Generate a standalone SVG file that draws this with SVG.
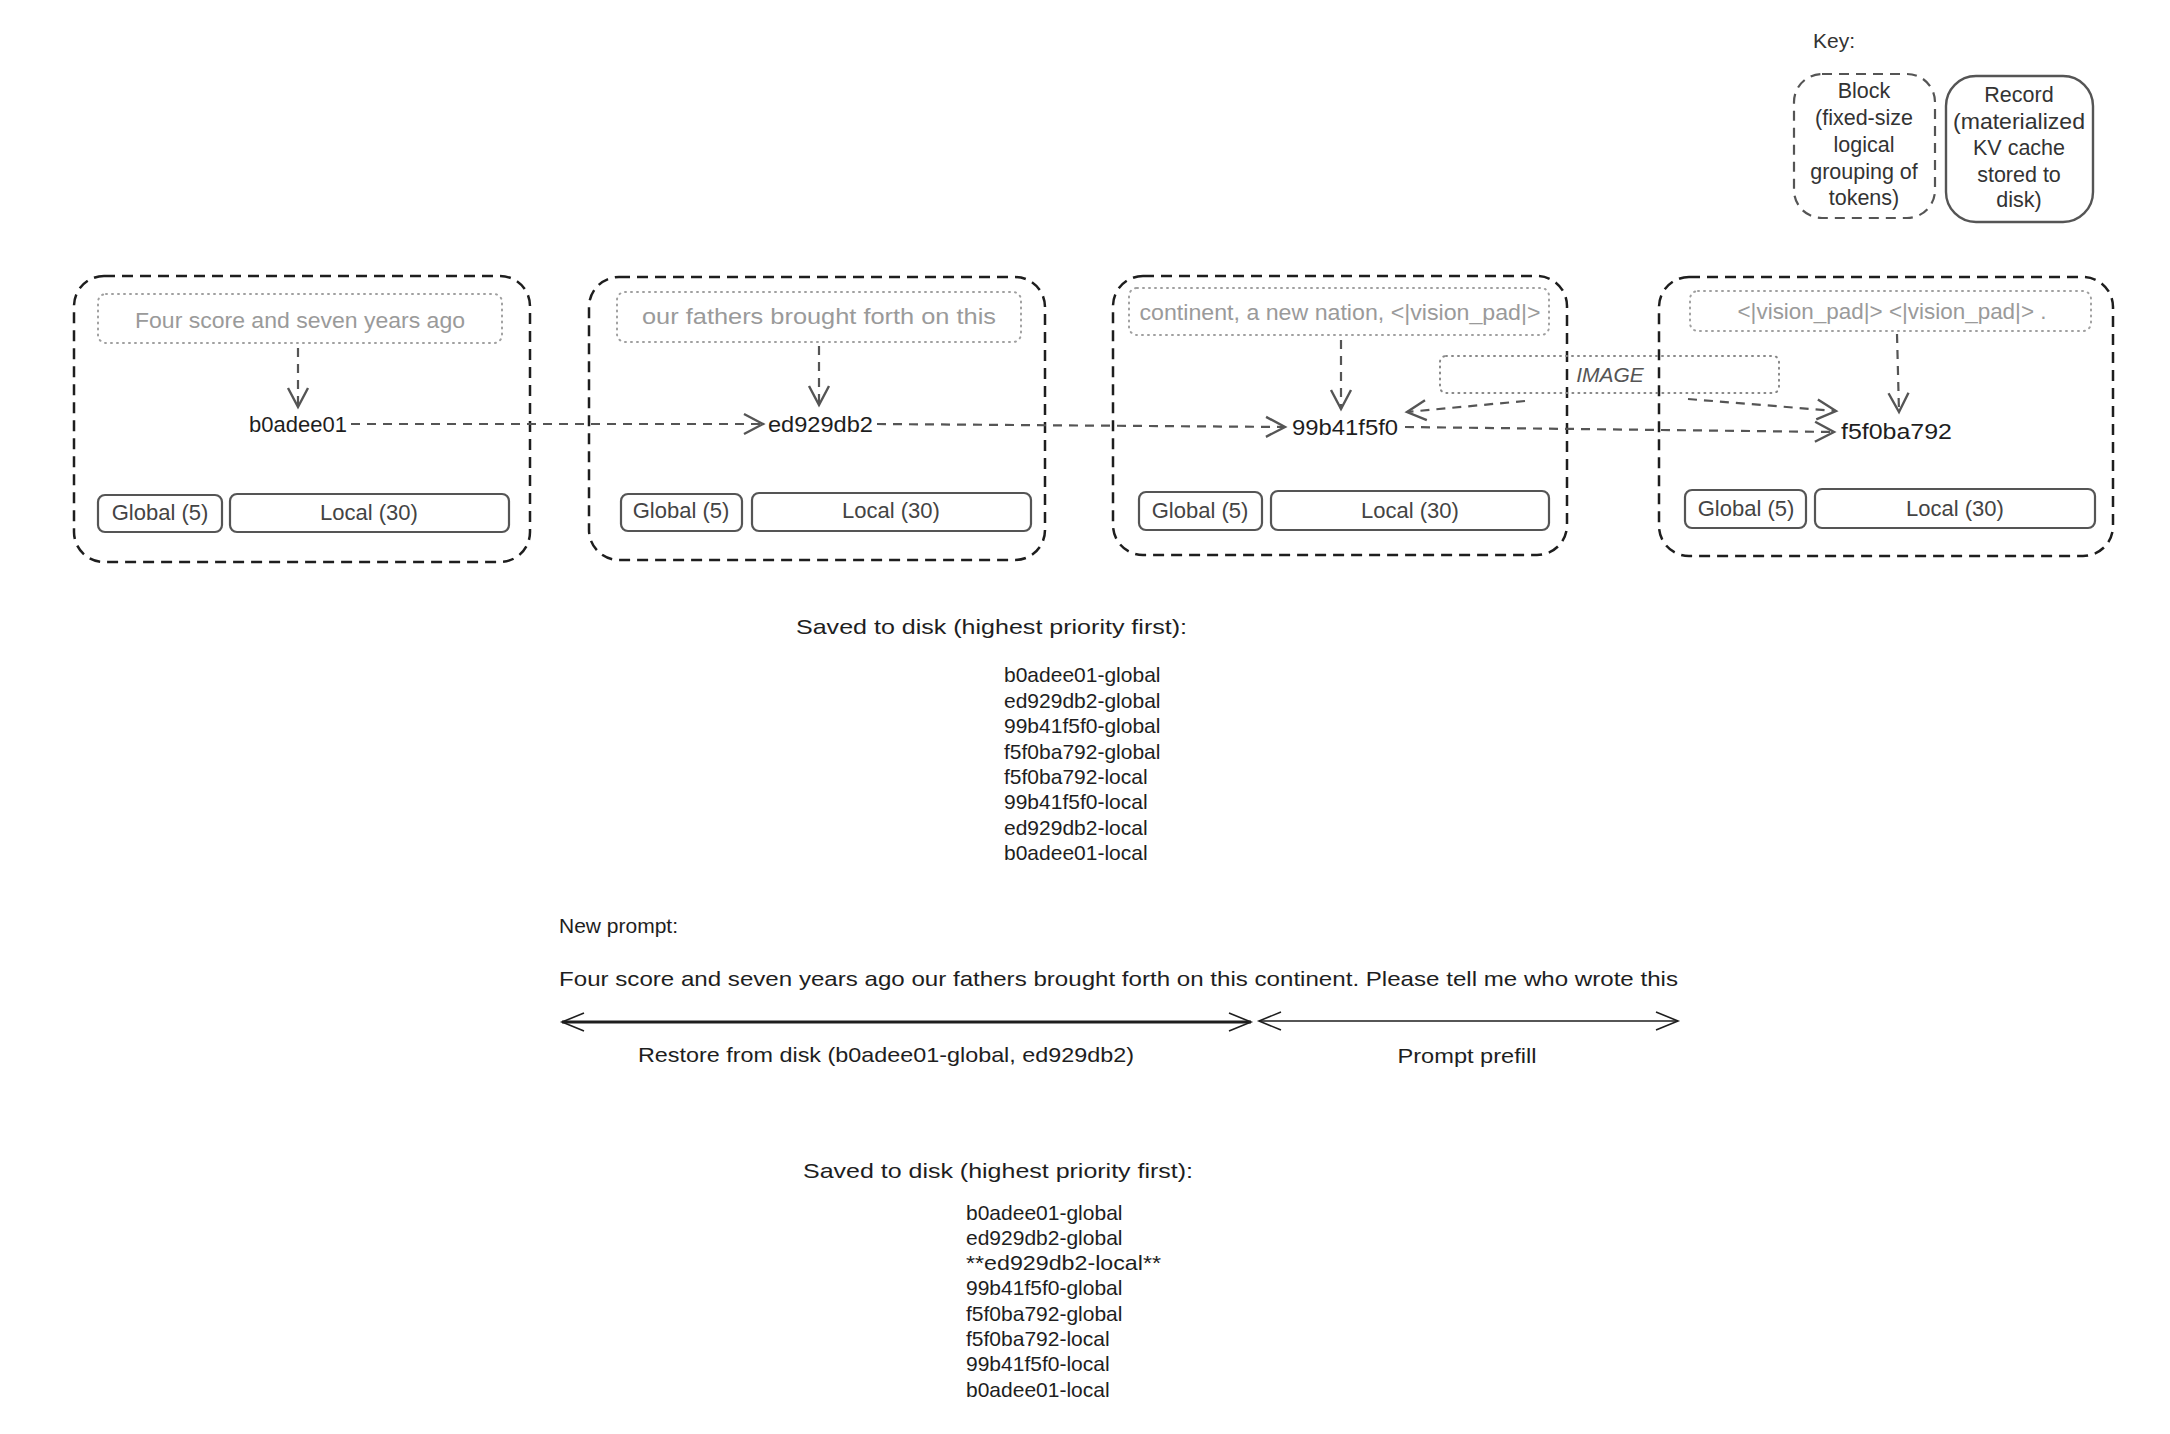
<svg xmlns="http://www.w3.org/2000/svg" width="2170" height="1434" viewBox="0 0 2170 1434">
<style>
text{font-family:"Liberation Sans","DejaVu Sans",sans-serif;dominant-baseline:central}
.blk{fill:none;stroke:#1e1e1e;stroke-width:2.5;stroke-dasharray:11 7}
.tok{fill:none;stroke:#a0a0a0;stroke-width:2;stroke-dasharray:1 5;stroke-linecap:round}
.tokt{fill:#9a9a9a;font-size:22px;text-anchor:middle}
.rec{fill:none;stroke:#555;stroke-width:2.2}
.rect{fill:#444;font-size:22px;text-anchor:middle}
.hash{fill:#1e1e1e;font-size:22px}
.con{fill:none;stroke:#555;stroke-width:2.2;stroke-dasharray:9 7}
.txt{fill:#1e1e1e;font-size:21px}
.key{fill:#333;font-size:21.5px;text-anchor:middle}
</style>
<defs>
<marker id="ah" markerUnits="userSpaceOnUse" markerWidth="26" markerHeight="24" viewBox="0 0 26 24" refX="21" refY="12" orient="auto"><path d="M2,2 L21,12 L2,22" fill="none" stroke="#555" stroke-width="2.4" stroke-dasharray="none"/></marker>
<marker id="ahk" markerUnits="userSpaceOnUse" markerWidth="28" markerHeight="24" viewBox="0 0 28 24" refX="24" refY="12" orient="auto-start-reverse"><path d="M2,3 L24,12 L2,21" fill="none" stroke="#1e1e1e" stroke-width="1.6"/></marker>
</defs>
<rect width="2170" height="1434" fill="#fff"/>

<g id="key">
<text x="1813" y="40" fill="#333" font-size="21px">Key:</text>
<g id="key-block">
<rect x="1794" y="74" width="141" height="144" rx="28" fill="none" stroke="#555" stroke-width="2.2" stroke-dasharray="10 7"/>
<text class="key" x="1864" y="91">Block</text>
<text class="key" x="1864" y="118">(fixed-size</text>
<text class="key" x="1864" y="145">logical</text>
<text class="key" x="1864" y="172">grouping of</text>
<text class="key" x="1864" y="198">tokens)</text>
</g>
<g id="key-record">
<rect x="1946" y="76" width="147" height="146" rx="30" fill="none" stroke="#555" stroke-width="2.4"/>
<text class="key" x="2019" y="95">Record</text>
<text class="key" x="2019" y="122" textLength="132" lengthAdjust="spacingAndGlyphs">(materialized</text>
<text class="key" x="2019" y="148">KV cache</text>
<text class="key" x="2019" y="175">stored to</text>
<text class="key" x="2019" y="200">disk)</text>
</g>
</g>

<g id="block1">
<rect class="blk" x="74" y="276" width="456" height="286" rx="30"/>
<rect class="tok" x="98" y="294" width="404" height="49" rx="8"/>
<text class="tokt" x="300" y="320" textLength="330" lengthAdjust="spacingAndGlyphs">Four score and seven years ago</text>
<text class="hash" x="249" y="424">b0adee01</text>
<rect class="rec" x="98" y="495" width="124" height="37" rx="7"/>
<text class="rect" x="160" y="512">Global (5)</text>
<rect class="rec" x="230" y="494" width="279" height="38" rx="7"/>
<text class="rect" x="369" y="512">Local (30)</text>
</g>

<g id="block2">
<rect class="blk" x="589" y="277" width="456" height="283" rx="30"/>
<rect class="tok" x="617" y="292" width="404" height="50" rx="8"/>
<text class="tokt" x="819" y="316" textLength="354" lengthAdjust="spacingAndGlyphs">our fathers brought forth on this</text>
<text class="hash" x="768" y="424" textLength="105" lengthAdjust="spacingAndGlyphs">ed929db2</text>
<rect class="rec" x="621" y="494" width="121" height="37" rx="7"/>
<text class="rect" x="681" y="510">Global (5)</text>
<rect class="rec" x="752" y="493" width="279" height="38" rx="7"/>
<text class="rect" x="891" y="510">Local (30)</text>
</g>

<g id="block3">
<rect class="blk" x="1113" y="276" width="454" height="279" rx="30"/>
<rect class="tok" x="1129" y="288" width="420" height="47" rx="8"/>
<text class="tokt" x="1340" y="312" textLength="401" lengthAdjust="spacingAndGlyphs">continent, a new nation, &lt;|vision_pad|&gt;</text>
<text class="hash" x="1292" y="427" textLength="106" lengthAdjust="spacingAndGlyphs">99b41f5f0</text>
<rect class="rec" x="1139" y="492" width="123" height="38" rx="7"/>
<text class="rect" x="1200" y="510">Global (5)</text>
<rect class="rec" x="1271" y="491" width="278" height="39" rx="7"/>
<text class="rect" x="1410" y="510">Local (30)</text>
</g>

<g id="block4">
<rect class="blk" x="1659" y="277" width="454" height="279" rx="30"/>
<rect class="tok" x="1690" y="291" width="401" height="40" rx="8"/>
<text class="tokt" x="1892" y="311" textLength="309" lengthAdjust="spacingAndGlyphs">&lt;|vision_pad|&gt; &lt;|vision_pad|&gt; .</text>
<text class="hash" x="1841" y="431" textLength="111" lengthAdjust="spacingAndGlyphs">f5f0ba792</text>
<rect class="rec" x="1685" y="490" width="121" height="38" rx="7"/>
<text class="rect" x="1746" y="508">Global (5)</text>
<rect class="rec" x="1815" y="489" width="280" height="39" rx="7"/>
<text class="rect" x="1955" y="508">Local (30)</text>
</g>

<g id="image">
<rect x="1440" y="356" width="339" height="37" rx="6" fill="none" stroke="#888" stroke-width="2" stroke-dasharray="1 5" stroke-linecap="round"/>
<text x="1610" y="374" fill="#555" font-size="21px" text-anchor="middle" font-style="italic">IMAGE</text>
</g>

<g id="connectors">
<line class="con" x1="298" y1="348" x2="298" y2="407" marker-end="url(#ah)"/>
<line class="con" x1="819" y1="346" x2="819" y2="405" marker-end="url(#ah)"/>
<line class="con" x1="1341" y1="340" x2="1341" y2="409" marker-end="url(#ah)"/>
<line class="con" x1="1897" y1="334" x2="1899" y2="412" marker-end="url(#ah)"/>
<line class="con" x1="351" y1="424" x2="763" y2="424" marker-end="url(#ah)"/>
<line class="con" x1="877" y1="424" x2="1285" y2="427" marker-end="url(#ah)"/>
<line class="con" x1="1405" y1="427" x2="1834" y2="432" marker-end="url(#ah)"/>
<line class="con" x1="1525" y1="401" x2="1407" y2="412" marker-end="url(#ah)"/>
<line class="con" x1="1688" y1="399" x2="1836" y2="411" marker-end="url(#ah)"/>
<line x1="562" y1="1022" x2="1251" y2="1022" stroke="#1e1e1e" stroke-width="2.8" marker-start="url(#ahk)" marker-end="url(#ahk)"/>
<line x1="1259" y1="1021" x2="1678" y2="1021" stroke="#1e1e1e" stroke-width="1.5" marker-start="url(#ahk)" marker-end="url(#ahk)"/>
</g>

<g id="saved1">
<text class="txt" x="796" y="626" textLength="391" lengthAdjust="spacingAndGlyphs">Saved to disk (highest priority first):</text>
<text class="txt" x="1004" y="674">b0adee01-global</text>
<text class="txt" x="1004" y="700">ed929db2-global</text>
<text class="txt" x="1004" y="725">99b41f5f0-global</text>
<text class="txt" x="1004" y="751">f5f0ba792-global</text>
<text class="txt" x="1004" y="776">f5f0ba792-local</text>
<text class="txt" x="1004" y="801">99b41f5f0-local</text>
<text class="txt" x="1004" y="827">ed929db2-local</text>
<text class="txt" x="1004" y="852">b0adee01-local</text>
</g>

<g id="prompt">
<text class="txt" x="559" y="925">New prompt:</text>
<text class="txt" x="559" y="978" textLength="1119" lengthAdjust="spacingAndGlyphs">Four score and seven years ago our fathers brought forth on this continent. Please tell me who wrote this</text>
<text class="txt" x="886" y="1054" text-anchor="middle" textLength="496" lengthAdjust="spacingAndGlyphs">Restore from disk (b0adee01-global, ed929db2)</text>
<text class="txt" x="1467" y="1055" text-anchor="middle" textLength="139" lengthAdjust="spacingAndGlyphs">Prompt prefill</text>
</g>

<g id="saved2">
<text class="txt" x="803" y="1170" textLength="390" lengthAdjust="spacingAndGlyphs">Saved to disk (highest priority first):</text>
<text class="txt" x="966" y="1212">b0adee01-global</text>
<text class="txt" x="966" y="1237">ed929db2-global</text>
<text class="txt" x="966" y="1262" textLength="195" lengthAdjust="spacingAndGlyphs">**ed929db2-local**</text>
<text class="txt" x="966" y="1287">99b41f5f0-global</text>
<text class="txt" x="966" y="1313">f5f0ba792-global</text>
<text class="txt" x="966" y="1338">f5f0ba792-local</text>
<text class="txt" x="966" y="1363">99b41f5f0-local</text>
<text class="txt" x="966" y="1389">b0adee01-local</text>
</g>
</svg>
